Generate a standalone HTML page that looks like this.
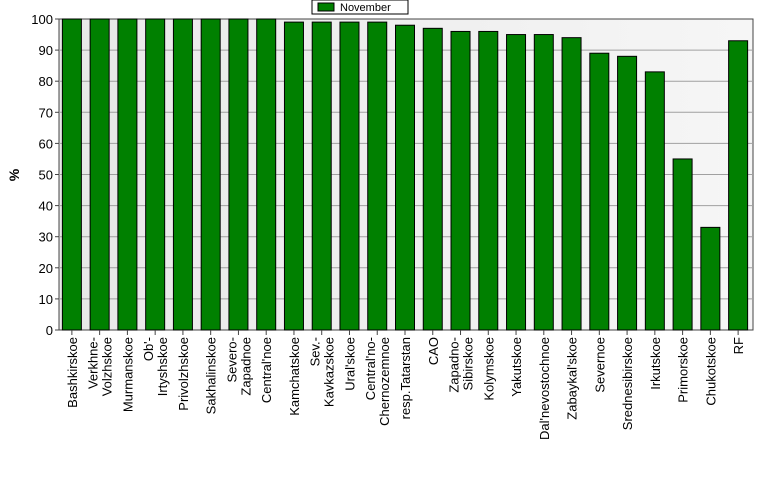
<!DOCTYPE html>
<html><head><meta charset="utf-8"><style>body{margin:0;background:#fff}svg{display:block;font-family:"Liberation Sans",Arial,sans-serif}</style></head>
<body>
<svg id="c" width="777" height="479">
<defs><linearGradient id="bg" x1="0" x2="1" y1="0" y2="0"><stop offset="0" stop-color="#e8e8e8"/><stop offset="1" stop-color="#f6f6f6"/></linearGradient></defs>
<rect x="59" y="19" width="694" height="311" fill="url(#bg)" stroke="#444"/>
<g id="grid"></g><g id="bars"></g><g id="ticks"></g><g id="labels"></g>
<text x="19" y="175" font-size="14" font-weight="bold" text-anchor="middle" transform="rotate(-90 19 175)">%</text>
<g>
<rect x="312" y="0" width="96" height="14" fill="#fff" stroke="#000"/>
<rect x="318" y="3" width="16" height="8" fill="#008000" stroke="#000"/>
<text x="340" y="11" font-size="11">November</text>
</g>
</svg>
<script>
const categories=[["Bashkirskoe"],["Verkhne-","Volzhskoe"],["Murmanskoe"],["Ob'-","Irtyshskoe"],["Privolzhskoe"],["Sakhalinskoe"],["Severo-","Zapadnoe"],["Central'noe"],["Kamchatskoe"],["Sev.-","Kavkazskoe"],["Ural'skoe"],["Central'no-","Chernozemnoe"],["resp.Tatarstan"],["CAO"],["Zapadno-","Sibirskoe"],["Kolymskoe"],["Yakutskoe"],["Dal'nevostochnoe"],["Zabaykal'skoe"],["Severnoe"],["Srednesibirskoe"],["Irkutskoe"],["Primorskoe"],["Chukotskoe"],["RF"]];
const values=[100,100,100,100,100,100,100,100,99,99,99,99,98,97,96,96,95,95,94,89,88,83,55,33,93];
const yTicks=[0,10,20,30,40,50,60,70,80,90,100];
const NS="http://www.w3.org/2000/svg";
const x0=59,x1=753,y0=330,y1=19;
const step=(x1-x0)/categories.length;
const xc=i=>x0+step*(i+0.5)-1;
const ys=v=>y0-(v/100)*(y0-y1);
function mk(t,a,p){const e=document.createElementNS(NS,t);for(const k in a)e.setAttribute(k,a[k]);p.appendChild(e);return e;}
const G=document.getElementById('grid'),B=document.getElementById('bars'),T=document.getElementById('ticks'),L=document.getElementById('labels');
yTicks.forEach(v=>{
 const y=ys(v);
 if(v>0&&v<100){const g=mk('line',{x1:x0,x2:x1,y1:y,y2:y,stroke:'#a0a0a0'},G);}
 mk('line',{x1:x0-4,x2:x0,y1:y,y2:y,stroke:'#444'},T);
 const t=mk('text',{x:x0-6,y:y+5,'font-size':13,'text-anchor':'end'},T);t.textContent=v;
 
});
values.forEach((v,i)=>{
 const c=xc(i);
 const r=mk('rect',{x:c-9.5,y:ys(v),width:19,height:y0-ys(v),fill:'#008000',stroke:'#000'},B);
 
 mk('line',{x1:c,x2:c,y1:y0,y2:y0+5,stroke:'#444'},T);
 const lines=categories[i];
 lines.forEach((s,j)=>{
  const off=lines.length===1?5:(j===0?-2:12);
  const tx=c+off,ty=y0+7;
  const t=mk('text',{x:tx,y:ty,'font-size':13,'text-anchor':'end',transform:`rotate(-90 ${tx} ${ty})`},L);
  t.textContent=s;
  
 });
});
</script>
</body></html>
